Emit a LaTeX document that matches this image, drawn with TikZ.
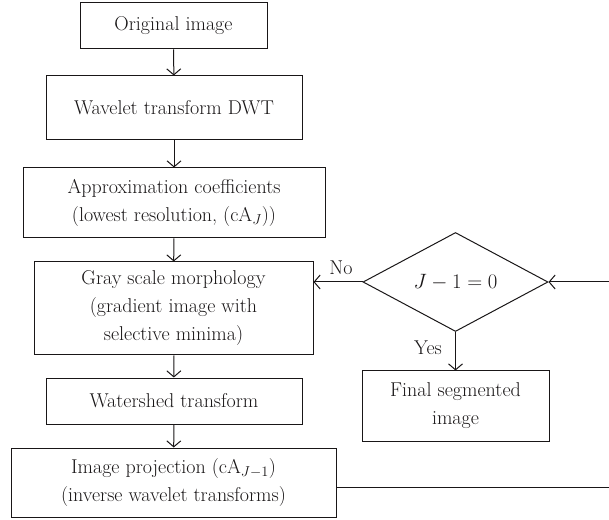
\documentclass[tikz,border=0pt]{standalone}
\usetikzlibrary{shapes.geometric,arrows.meta}
\definecolor{ink}{RGB}{25,22,23}
\begin{document}
\begin{tikzpicture}[x=1pt,y=1pt,
  every node/.style={text=ink},
  box/.style={draw=ink,line width=1pt,inner sep=0pt,align=center,font=\fontsize{20}{28}\selectfont},
  lbl/.style={font=\fontsize{20}{24}\selectfont,inner sep=0pt},
  arr/.style={draw=ink,line width=1pt,-{Straight Barb[length=6pt,width=14pt,line width=1pt]}},
  ln/.style={draw=ink,line width=1pt}]
\useasboundingbox (0,0) rectangle (609,519);
\node[box,minimum width=187pt,minimum height=46pt] (orig) at (173.5,493) {Original image};
\node[box,minimum width=256pt,minimum height=64pt] (dwt) at (174,411) {Wavelet transform DWT};
\node[box,minimum width=302pt,minimum height=70pt] (approx) at (174,316) {Approximation coefficients\\(lowest resolution, (cA$_J$))};
\node[box,minimum width=279pt,minimum height=93pt] (gray) at (173.5,210.5) {Gray scale morphology\\(gradient image with\\selective minima)};
\node[box,minimum width=256pt,minimum height=46pt] (ws) at (174,118) {Watershed transform};
\node[box,minimum width=325pt,minimum height=69pt] (proj) at (173.5,36.5) {Image projection (cA$_{J-1}$)\\(inverse wavelet transforms)};
\node[box,diamond,aspect=1.87,minimum width=185pt,minimum height=99pt] (dia) at (455.5,237) {$J-1=0$};
\node[box,minimum width=187pt,minimum height=70pt] (final) at (455.5,113) {Final segmented\\image};
\coordinate (c1) at (611,32);
\coordinate (c2) at (611,237);
\draw[arr] (orig) -- (dwt);
\draw[arr] (dwt) -- (approx);
\draw[arr] (approx) -- (gray);
\draw[arr] (gray) -- (ws);
\draw[arr] (ws) -- (proj);
\draw[arr] (dia.south) -- (final.north);
\draw[arr] (dia.west) -- (dia.west -| gray.east);
\draw[ln] (proj.east |- c1) -- (c1) -- (c2);
\draw[arr] (c2) -- (dia.east);
\node[lbl] (no) at (341,251) {No};
\node[lbl] (yes) at (428,171) {Yes};
\end{tikzpicture}
\end{document}
